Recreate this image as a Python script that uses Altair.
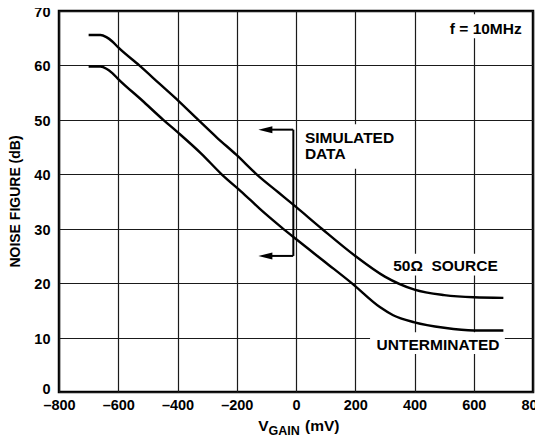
import altair as alt
import pandas as pd

# ---- data ----
vgain_50 = [-700, -660, -640, -620, -600, -529, -460, -397, -330, -268, -200, -133, -60, 0, 87, 200, 300, 400, 500, 600, 700]
nf_50 = [65.6, 65.6, 65.2, 64.4, 63.3, 60.0, 56.6, 53.5, 50.0, 46.8, 43.5, 40.0, 36.7, 34.0, 30.0, 25.0, 21.2, 18.8, 17.8, 17.4, 17.3]

vgain_un = [-700, -660, -640, -620, -600, -520, -448, -397, -320, -251, -180, -121, -50, 0, 100, 188, 283, 328, 400, 500, 600, 700]
nf_un = [59.8, 59.8, 59.4, 58.6, 57.5, 53.6, 50.0, 47.6, 43.8, 40.0, 36.6, 33.6, 30.3, 28.1, 23.8, 20.0, 15.6, 14.1, 12.8, 11.8, 11.3, 11.3]

x_ticks = [-800, -600, -400, -200, 0, 200, 400, 600, 800]
y_ticks = [0, 10, 20, 30, 40, 50, 60, 70]

labels = ["f = 10MHz", "SIMULATED", "DATA", "50\u03a9\u00a0\u00a0SOURCE", "UNTERMINATED"]

# ---- annotation placement (data space) ----
label_x = [762, 30, 30, 328, 272]
label_y = [65.7, 45.8, 42.8, 22.2, 7.8]
label_align = ["right", "left", "left", "left", "left"]

box_x = [500, 13, 311, 250]
box_x2 = [776, 358, 695, 705]
box_y = [65.0, 41.0, 21.4, 7.0]
box_y2 = [69.4, 49.2, 25.4, 11.0]

bracket_x = -9
bracket_top, bracket_bottom = 48.2, 25.0
arrow_tip = -127

FONT = "Liberation Sans"

curves = pd.DataFrame({
    "v": vgain_50 + vgain_un,
    "nf": nf_50 + nf_un,
    "series": ["50 ohm source"] * len(vgain_50) + ["unterminated"] * len(vgain_un),
})

dash_expr = "datum.value < 0 ? '\u2013' + abs(datum.value) : '' + datum.value"

X = alt.X(
    "v:Q",
    scale=alt.Scale(domain=[-800, 800], nice=False),
    axis=alt.Axis(
        values=x_ticks, title=None, grid=True, ticks=False, domain=False,
        labelExpr=dash_expr, labelFont=FONT, labelFontWeight="bold",
        labelFontSize=14.5, labelColor="black", labelPadding=6, labelFlush=False,
        labelOverlap=False, gridColor="#1a1a1a", gridWidth=1.2,
    ),
)
Y = alt.Y(
    "nf:Q",
    scale=alt.Scale(domain=[0, 70], nice=False),
    axis=alt.Axis(
        values=y_ticks, title="NOISE FIGURE (dB)", grid=True, ticks=False, domain=False,
        labelFont=FONT, labelFontWeight="bold", labelFontSize=14.5, labelColor="black",
        labelPadding=9, labelOffset=alt.condition("datum.value == 0", alt.value(-3), alt.value(1.5)),
        labelFlush=False, labelOverlap=False,
        gridColor="#1a1a1a", gridWidth=1.2,
        titleFont=FONT, titleFontWeight="bold", titleFontSize=14, titleColor="black",
        titleX=-43.5, titleY=190, titleBaseline="middle", titleAngle=270,
    ),
)

lines = alt.Chart(curves).mark_line(
    color="black", strokeWidth=2.4, interpolate="monotone"
).encode(x=X, y=Y, detail="series:N")

boxes_df = pd.DataFrame({"v": box_x, "v2": box_x2, "nf": box_y, "nf2": box_y2})
boxes = alt.Chart(boxes_df).mark_rect(color="white").encode(
    x="v:Q", x2="v2:Q", y="nf:Q", y2="nf2:Q"
)

text_df = pd.DataFrame({"v": label_x, "nf": label_y, "t": labels, "a": label_align})
texts_left = alt.Chart(text_df[text_df.a == "left"]).mark_text(
    font=FONT, fontWeight="bold", fontSize=15.5, align="left", baseline="alphabetic", color="black"
).encode(x="v:Q", y="nf:Q", text="t:N")
texts_right = alt.Chart(text_df[text_df.a == "right"]).mark_text(
    font=FONT, fontWeight="bold", fontSize=15.5, align="right", baseline="alphabetic", color="black"
).encode(x="v:Q", y="nf:Q", text="t:N")

vrule_df = pd.DataFrame({"v": [bracket_x], "nf": [bracket_bottom], "nf2": [bracket_top]})
vrule = alt.Chart(vrule_df).mark_rule(color="black", strokeWidth=2).encode(
    x="v:Q", y="nf:Q", y2="nf2:Q"
)
hrule_df = pd.DataFrame({"v": [arrow_tip + 30, arrow_tip + 30], "v2": [bracket_x - 0.5, bracket_x - 0.5],
                         "nf": [bracket_top, bracket_bottom]})
hrule = alt.Chart(hrule_df).mark_rule(color="black", strokeWidth=2).encode(
    x="v:Q", x2="v2:Q", y="nf:Q"
)
heads_df = pd.DataFrame({"v": [arrow_tip, arrow_tip], "nf": [bracket_top, bracket_bottom]})
heads = alt.Chart(heads_df).mark_point(
    shape="M0,0L2,-0.5L2,0.5Z", size=196, filled=True, color="black", opacity=1, strokeWidth=0
).encode(x="v:Q", y="nf:Q")

title_df = pd.DataFrame({"t": ["V"]})
t_v = alt.Chart(title_df).mark_text(
    font=FONT, fontWeight="bold", fontSize=15.5, align="left", baseline="alphabetic", color="black"
).encode(x=alt.value(199.3), y=alt.value(420), text=alt.value("V"))
t_gain = alt.Chart(title_df).mark_text(
    font=FONT, fontWeight="bold", fontSize=12.5, align="left", baseline="alphabetic", color="black"
).encode(x=alt.value(209.5), y=alt.value(424), text=alt.value("GAIN"))
t_mv = alt.Chart(title_df).mark_text(
    font=FONT, fontWeight="bold", fontSize=15.5, align="left", baseline="alphabetic", color="black"
).encode(x=alt.value(246), y=alt.value(420), text=alt.value("(mV)"))

chart = alt.layer(
    boxes, texts_left, texts_right, vrule, hrule, heads, lines, t_v, t_gain, t_mv
).properties(
    width=474, height=381,
    autosize=alt.AutoSizeParams(type="none"),
    padding={"left": 51, "top": 3, "right": 2, "bottom": 45},
    background="white",
).configure_view(stroke="black", strokeWidth=2.5)

chart.save("out.html", embed_options={"renderer": "svg", "actions": False})
